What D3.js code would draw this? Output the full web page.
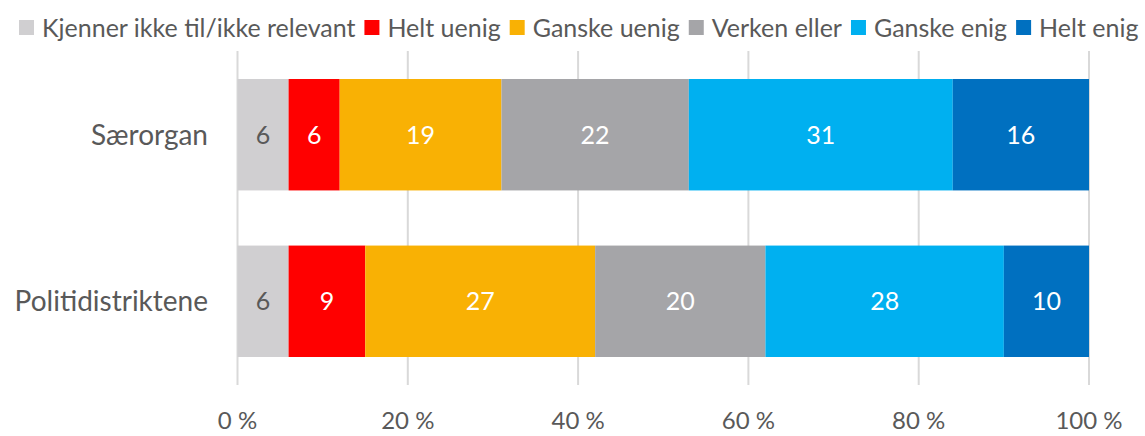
<!DOCTYPE html>
<html>
<head>
<meta charset="utf-8">
<script src="https://cdn.jsdelivr.net/npm/d3@7"></script>
<style>
body { margin: 0; background: #fff; }
text { font-family: Lato, "Open Sans", sans-serif; fill: #595959; }
</style>
</head>
<body>
<svg id="chart"></svg>
<script>
var categories = ["Særorgan", "Politidistriktene"];
var series = ["Kjenner ikke til/ikke relevant", "Helt uenig", "Ganske uenig", "Verken eller", "Ganske enig", "Helt enig"];
var colors = ["#D0CFD1", "#FF0000", "#F9B104", "#A5A5A8", "#00B0F0", "#0070C0"];
var saerorgan = [6, 6, 19, 22, 31, 16];
var politi = [6, 9, 27, 20, 28, 10];
var ticks = [0, 20, 40, 60, 80, 100];

var values = [saerorgan, politi];
var width = 1145, height = 436;

var svg = d3.select("#chart").attr("width", width).attr("height", height);

var x = d3.scaleLinear().domain([0, 100]).range([237.5, 1089]);
var y = d3.scaleBand().domain(categories).range([79, 357]).paddingInner(0.331).paddingOuter(0);

// gridlines
svg.append("g")
    .selectAll("line")
    .data(ticks)
    .enter()
    .append("line")
    .attr("x1", d => x(d)).attr("x2", d => x(d))
    .attr("y1", 51).attr("y2", 385)
    .attr("stroke", "#D9D9D9")
    .attr("stroke-width", 2);

// tick labels
svg.append("g")
    .selectAll("text")
    .data(ticks)
    .enter()
    .append("text")
    .attr("x", d => x(d))
    .attr("y", 429)
    .attr("text-anchor", "middle")
    .style("font-size", "24px")
    .text(d => d + " %");

// bars
categories.forEach(function(cat, ci) {
    var acc = 0;
    var g = svg.append("g");
    values[ci].forEach(function(v, si) {
        var x0 = acc;
        acc += v;
        g.append("rect")
            .attr("x", x(x0))
            .attr("y", y(cat))
            .attr("width", x(acc) - x(x0))
            .attr("height", y.bandwidth())
            .attr("fill", colors[si]);
        g.append("text")
            .attr("x", (x(x0) + x(acc)) / 2)
            .attr("y", y(cat) + y.bandwidth() / 2)
            .attr("dy", "0.36em")
            .attr("text-anchor", "middle")
            .style("font-size", "25px")
            .style("fill", si == 0 ? "#595959" : "#fff")
            .text(v);
    });
    svg.append("text")
        .attr("x", 208)
        .attr("y", y(cat) + y.bandwidth() / 2)
        .attr("dy", "0.36em")
        .attr("text-anchor", "end")
        .style("font-size", "28px")
        .text(cat);
});

// legend
var legend = svg.append("g");
var lx = 19;
series.forEach(function(s, i) {
    legend.append("rect")
        .attr("x", lx).attr("y", 20)
        .attr("width", 15).attr("height", 15)
        .attr("fill", colors[i]);
    var t = legend.append("text")
        .attr("x", lx + 23)
        .attr("y", 27.5)
        .attr("dy", "0.36em")
        .style("font-size", "25px")
        .text(s);
    lx += 23 + t.node().getComputedTextLength() + 9;
});
</script>
</body>
</html>
